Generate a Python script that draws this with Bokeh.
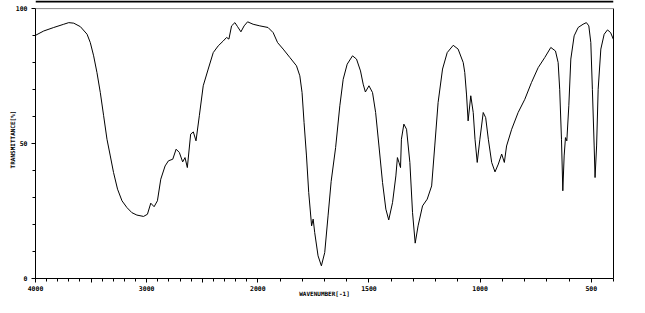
from bokeh.plotting import figure
from bokeh.models import Range1d, LinearAxis, FixedTicker, Span, ColumnDataSource
from bokeh.embed import file_html
from bokeh.resources import INLINE

# Wavenumbers (cm-1) and transmittance (%)
wavenumber = [4000, 3926, 3836, 3746, 3701, 3656, 3596, 3536, 3507, 3477, 3447, 3417, 3387, 3357,
              3327, 3298, 3262, 3222, 3178, 3133, 3088, 3028, 2993, 2963, 2933, 2903, 2873, 2834,
              2804, 2765, 2735, 2706, 2676, 2655, 2634, 2604, 2580, 2556, 2526, 2491, 2446, 2401,
              2356, 2311, 2281, 2260, 2236, 2206, 2182, 2152, 2123, 2092, 2042, 1991, 1954, 1931,
              1911, 1886, 1856, 1826, 1811, 1801, 1792, 1781, 1771, 1758, 1751, 1744, 1729, 1714,
              1699, 1684, 1670, 1650, 1631, 1616, 1598, 1574, 1556, 1538, 1526, 1516, 1500, 1484,
              1470, 1455, 1439, 1424, 1411, 1394, 1379, 1372, 1365, 1358, 1354, 1343, 1331, 1316,
              1304, 1292, 1279, 1259, 1238, 1218, 1204, 1189, 1169, 1148, 1121, 1099, 1076, 1069,
              1061, 1054, 1042, 1031, 1023, 1013, 1001, 986, 975, 963, 948, 933, 918, 903,
              891, 881, 858, 829, 799, 769, 739, 709, 682, 661, 649, 642, 634, 628,
              622, 616, 610, 601, 592, 577, 559, 537, 522, 511, 502, 495, 487, 483,
              476, 469, 457, 442, 427, 413, 400]
transmittance = [90.1, 91.7, 93.0, 94.2, 94.8, 94.6, 93.3, 90.5, 87.4, 82.5, 76.3, 68.9, 60.3, 51.6,
                 45.4, 39.3, 33.1, 28.8, 26.3, 24.4, 23.5, 23.0, 23.8, 27.9, 26.6, 28.8, 36.8, 41.7,
                 43.6, 44.2, 47.9, 46.7, 43.2, 44.8, 41.1, 53.5, 54.3, 51.0, 60.3, 71.4, 77.6, 83.7,
                 86.2, 88.0, 89.3, 88.7, 93.6, 94.8, 93.3, 91.4, 93.6, 95.1, 94.2, 93.6, 93.0, 91.1,
                 87.4, 85.0, 81.9, 78.8, 75.1, 68.9, 57.8, 45.4, 31.9, 19.5, 22.0, 17.0, 8.4, 4.7,
                 9.6, 23.2, 36.0, 48.5, 64.0, 73.8, 79.4, 82.5, 81.3, 76.9, 72.0, 69.1, 71.4, 68.9,
                 61.5, 49.1, 35.6, 25.7, 21.7, 28.1, 38.0, 44.8, 43.0, 41.1, 51.6, 57.2, 55.3, 43.0,
                 24.4, 13.1, 19.5, 26.9, 29.4, 34.3, 49.1, 65.2, 77.6, 83.7, 86.4, 85.0, 80.0, 76.3,
                 68.0, 58.4, 67.7, 61.5, 51.6, 43.0, 51.6, 61.5, 59.6, 51.6, 43.0, 39.5, 42.4, 46.1,
                 43.0, 49.1, 55.3, 61.5, 66.4, 72.6, 78.1, 81.9, 85.6, 84.3, 80.0, 70.1, 51.6, 32.5,
                 45.4, 52.2, 51.0, 64.0, 81.3, 89.9, 93.0, 94.2, 94.8, 93.6, 87.4, 70.1, 49.1, 37.4,
                 49.1, 70.1, 85.0, 90.5, 92.1, 91.1, 88.5]

x_major_ticks = [4000, 3500, 3000, 2500, 2000, 1500, 1000, 500]
x_major_labels = ["4000", "", "3000", "", "2000", "1500", "1000", "500"]
y_major_ticks = [0, 50, 100]
y_major_labels = ["0", "50", "100"]


def to_axis(wn):
    # IR chart scale: 4000-2000 compressed by 2x relative to 2000-400
    return (4000 - wn) / 2.0 if wn >= 2000 else 1000 + (2000 - wn)


x_minor = [to_axis(w) for w in range(4000, 399, -100)]

src = ColumnDataSource(dict(u=[to_axis(w) for w in wavenumber], t=transmittance, wn=wavenumber))

FONT = "DejaVu Sans Mono"

p = figure(width=645, height=313, output_backend="svg", toolbar_location=None,
           x_range=Range1d(to_axis(4000), to_axis(400)), y_range=Range1d(0, 103),
           x_axis_location=None, y_axis_location=None,
           min_border_left=35, min_border_right=32, min_border_top=0, min_border_bottom=35)
p.outline_line_color = None
p.xgrid.visible = False
p.ygrid.visible = False
p.background_fill_color = "white"
p.border_fill_color = "white"

p.line("u", "t", source=src, line_color="black", line_width=1)

# bottom axis
xa = LinearAxis(ticker=FixedTicker(ticks=[to_axis(w) for w in x_major_ticks], minor_ticks=x_minor),
                major_label_overrides={to_axis(w): l for w, l in zip(x_major_ticks, x_major_labels)},
                axis_label="WAVENUMBER[-1]")
p.add_layout(xa, "below")

# left axis
ya = LinearAxis(ticker=FixedTicker(ticks=y_major_ticks, minor_ticks=list(range(0, 101, 10))),
                major_label_overrides={v: l for v, l in zip(y_major_ticks, y_major_labels)},
                axis_label="TRANSMITTANCE[%]", bounds=(0, 100))
p.add_layout(ya, "left")

for ax in (xa, ya):
    ax.axis_line_color = "black"
    ax.axis_line_width = 1
    ax.major_tick_line_color = "black"
    ax.minor_tick_line_color = "black"
    ax.major_tick_in = 0
    ax.major_tick_out = 4
    ax.minor_tick_in = 0
    ax.minor_tick_out = 3
    ax.major_label_text_font = FONT
    ax.major_label_text_font_style = "bold"
    ax.major_label_text_font_size = "6.5px"
    ax.major_label_text_color = "black"
    ax.axis_label_text_font = FONT
    ax.axis_label_text_font_style = "bold"
    ax.axis_label_text_font_size = "6px"
    ax.axis_label_text_color = "black"

xa.major_label_standoff = 3
xa.axis_label_standoff = -4
ya.major_label_standoff = 4
ya.axis_label_standoff = -3

# right border
ra = LinearAxis(ticker=FixedTicker(ticks=[]), bounds=(0, 100), major_label_standoff=0,
                axis_line_color="black", major_tick_out=0, minor_tick_out=0)
p.add_layout(ra, "right")

# 100% line and heavy top rule
p.add_layout(Span(location=100, dimension="width", line_color="#8a8a8a", line_width=1))
p.add_layout(Span(location=102.6, dimension="width", line_color="black", line_width=2))

open("out.html", "w").write(file_html(p, INLINE))
